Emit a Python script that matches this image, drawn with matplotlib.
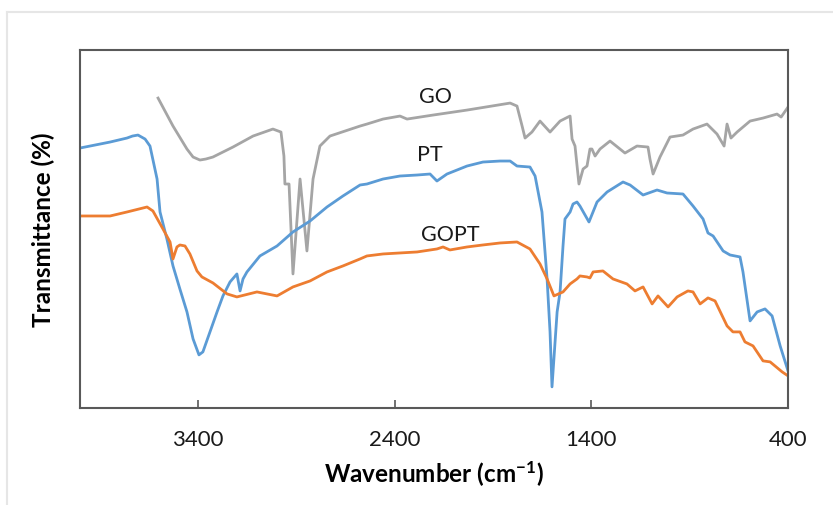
import numpy as np
import matplotlib
matplotlib.use("Agg")
import matplotlib.pyplot as plt
from matplotlib.lines import Line2D

plt.rcParams['font.family'] = ['Lato', 'DejaVu Sans']
plt.rcParams['mathtext.fontset'] = 'custom'
plt.rcParams['mathtext.rm'] = 'Lato'
plt.rcParams['mathtext.bf'] = 'Lato:bold'

# FTIR spectra (wavenumber cm-1, transmittance in arbitrary units)
pt_wn = [4000, 3847, 3761, 3733, 3705, 3669, 3644, 3608, 3593, 3558, 3527, 3492, 3456,
         3425, 3395, 3375, 3339, 3303, 3273, 3237, 3202, 3186, 3171, 3151, 3085, 2998,
         2917, 2830, 2744, 2663, 2576, 2541, 2459, 2373, 2286, 2220, 2185, 2134, 2032,
         1951, 1864, 1813, 1778, 1712, 1686, 1651, 1625, 1610, 1600, 1574, 1559, 1544,
         1534, 1508, 1493, 1473, 1458, 1412, 1371, 1320, 1239, 1203, 1137, 1066, 1015,
         934, 883, 832, 807, 781, 730, 695, 644, 629, 593, 557, 517, 481, 440, 400]
pt_t = [260, 266, 270, 272, 273, 269, 262, 229, 196, 169, 142, 119, 96,
        69, 53, 56, 76, 96, 112, 126, 134, 117, 129, 136, 152, 162,
        176, 187, 201, 212, 223, 224, 229, 232, 233, 234, 227, 234, 242,
        246, 247, 247, 242, 241, 232, 196, 129, 76, 21, 96, 116, 162,
        189, 196, 204, 206, 202, 186, 206, 216, 226, 223, 213, 218, 215,
        214, 202, 189, 175, 172, 157, 153, 151, 136, 87, 96, 99, 92, 62, 37]

gopt_wn = [4000, 3847, 3761, 3659, 3629, 3578, 3542, 3527, 3507, 3492, 3466, 3441, 3405,
           3380, 3324, 3252, 3202, 3100, 2998, 2917, 2830, 2744, 2663, 2576, 2541, 2459,
           2373, 2286, 2185, 2154, 2119, 2032, 1951, 1864, 1778, 1712, 1661, 1625, 1590,
           1544, 1508, 1473, 1458, 1422, 1407, 1391, 1341, 1290, 1219, 1178, 1137, 1091,
           1061, 1010, 964, 909, 883, 847, 807, 771, 710, 680, 644, 619, 578, 527, 491,
           430, 400]
gopt_t = [192, 192, 196, 201, 197, 179, 166, 149, 161, 163, 162, 154, 137,
          131, 125, 114, 111, 116, 112, 121, 127, 136, 142, 149, 152, 154,
          155, 156, 159, 161, 158, 161, 163, 165, 166, 159, 144, 129, 112,
          116, 124, 129, 132, 131, 130, 136, 137, 129, 124, 117, 121, 104,
          112, 101, 111, 117, 116, 104, 110, 107, 82, 76, 76, 66, 62, 47, 46,
          36, 32]

go_wn = [3603, 3527, 3456, 3425, 3390, 3360, 3324, 3222, 3120, 3019, 2978, 2963, 2958,
         2937, 2917, 2881, 2846, 2815, 2780, 2729, 2576, 2541, 2459, 2373, 2337, 2205,
         2032, 1813, 1778, 1752, 1737, 1702, 1661, 1610, 1559, 1519, 1508, 1498, 1483,
         1463, 1442, 1422, 1407, 1397, 1381, 1356, 1305, 1229, 1168, 1112, 1102, 1086,
         1051, 1000, 934, 883, 812, 761, 725, 710, 690, 659, 593, 527, 456, 435, 400]
go_t = [310, 282, 259, 251, 248, 249, 251, 261, 272, 279, 276, 252, 224,
        224, 134, 229, 157, 229, 262, 272, 282, 284, 289, 292, 289, 293,
        298, 305, 302, 282, 270, 276, 287, 276, 287, 291, 292, 269, 262,
        224, 239, 242, 259, 259, 252, 259, 267, 255, 262, 261, 249, 234,
        251, 271, 273, 279, 284, 274, 262, 284, 270, 276, 287, 290, 294, 291, 301]

labels = ['GO', 'PT', 'GOPT']
label_pos = [(2195, 312), (2220, 254), (2119, 174)]
ticks = [3400, 2400, 1400, 400]

fig = plt.figure(figsize=(8.33, 5.06), dpi=100)
ax = fig.add_axes([0.096, 0.192, 0.85, 0.707])

ax.plot(go_wn, go_t, color='#A5A5A5', lw=2.0)
ax.plot(pt_wn, pt_t, color='#5B9BD5', lw=2.0)
ax.plot(gopt_wn, gopt_t, color='#ED7D31', lw=2.0)

for lab, (x, y) in zip(labels, label_pos):
    ax.text(x, y, lab, fontsize=15.5, ha='center', va='center', color='#1a1a1a')

ax.set_xlim(4000, 400)
ax.set_ylim(0, 358)
ax.set_xticks(ticks)
ax.set_xticklabels([str(t) for t in ticks])
ax.set_yticks([])
ax.tick_params(axis='x', direction='in', length=6, width=1.2, color='#595959',
               labelsize=16, pad=15, labelcolor='#1a1a1a')
for s in ax.spines.values():
    s.set_color('#595959')
    s.set_linewidth(1.5)

ax.set_xlabel(r'Wavenumber (cm$\mathbf{^{-1}}$)', fontsize=17.5, fontweight='bold', labelpad=7)
ax.set_ylabel('Transmittance (%)', fontsize=17.5, fontweight='bold', labelpad=18)

# light frame around the picture
fig.add_artist(Line2D([7/833, 1], [1 - 13/506, 1 - 13/506], color='#e6e6e6', lw=1.5))
fig.add_artist(Line2D([7/833, 7/833], [0, 1 - 13/506], color='#e6e6e6', lw=1.5))

fig.savefig('out.png', dpi=100)
